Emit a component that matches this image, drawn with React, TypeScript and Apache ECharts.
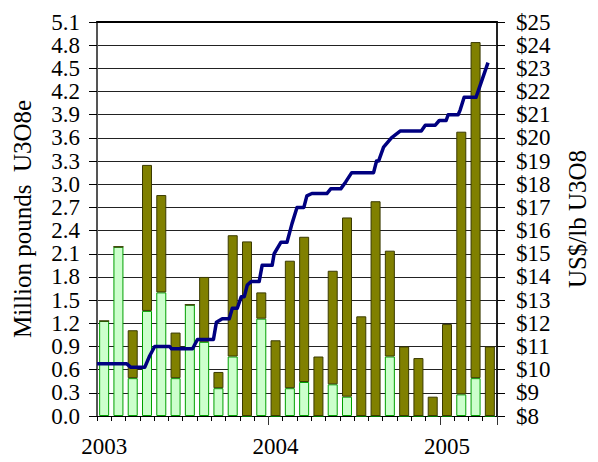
import React, { useEffect, useRef } from "react";
import * as echarts from "echarts";

const categories = [
  "Jan 2003", "Feb 2003", "Mar 2003", "Apr 2003", "May 2003", "Jun 2003",
  "Jul 2003", "Aug 2003", "Sep 2003", "Oct 2003", "Nov 2003", "Dec 2003",
  "Jan 2004", "Feb 2004", "Mar 2004", "Apr 2004", "May 2004", "Jun 2004",
  "Jul 2004", "Aug 2004", "Sep 2004", "Oct 2004", "Nov 2004", "Dec 2004",
  "Jan 2005", "Feb 2005", "Mar 2005", "Apr 2005",
];

// light green (lower) part of each bar, million lb
const lightVolume = [
  1.23, 2.19, 0.49, 1.36, 1.6, 0.49, 1.44, 0.96, 0.36, 0.77, 0, 1.26,
  0, 0.36, 0.44, 0, 0.41, 0.25, 0, 0, 0.77, 0, 0, 0,
  0, 0.28, 0.49, 0,
];

// olive (upper) part of each bar, million lb
const oliveVolume = [
  0, 0, 0.62, 1.89, 1.26, 0.59, 0, 0.84, 0.21, 1.57, 2.26, 0.34,
  0.98, 1.65, 1.88, 0.77, 1.47, 2.32, 1.29, 2.78, 1.37, 0.9, 0.75, 0.25,
  1.19, 3.4, 4.35, 0.9,
];

// spot price: [months since Jan 2003, US$/lb]
const spotPrice: [number, number][] = [
  [0, 10.25], [2.09, 10.25], [2.37, 10.1], [3.34, 10.1], [3.69, 10.6], [4.04, 11.0],
  [5.08, 11.0], [5.22, 10.9], [6.69, 10.9], [7.03, 11.3], [8.15, 11.3], [8.36, 12.05],
  [8.77, 12.2], [9.26, 12.2], [9.47, 12.65], [9.82, 12.65], [10.1, 13.15], [10.31, 13.15],
  [10.52, 13.65], [10.79, 13.8], [11.35, 13.8], [11.56, 14.5], [12.26, 14.5], [12.4, 15.0],
  [12.88, 15.5], [13.3, 15.5], [13.65, 16.3], [14.0, 17.0], [14.48, 17.0], [14.69, 17.5],
  [15.04, 17.6], [16.09, 17.6], [16.36, 17.8], [17.06, 17.8], [17.41, 18.1], [17.83, 18.5],
  [19.36, 18.5], [19.57, 19.0], [19.71, 19.0], [20.06, 19.6], [20.61, 20.0], [21.24, 20.3],
  [22.7, 20.3], [22.98, 20.55], [23.68, 20.55], [23.96, 20.75], [24.44, 20.75], [24.58, 21.0],
  [25.28, 21.0], [25.42, 21.2], [25.7, 21.75], [26.53, 21.75], [27.37, 23.25],
];

const FONT = "'Liberation Serif', 'DejaVu Serif', serif";

export default function App() {
  const ref = useRef<HTMLDivElement>(null);
  useEffect(() => {
    document.body.style.margin = "0";
    const chart = echarts.init(ref.current!, null, { renderer: "svg" });
    chart.setOption({
      animation: false,
      backgroundColor: "#ffffff",
      textStyle: { fontFamily: FONT, color: "#000" },
      grid: { left: 97, right: 99, top: 22, bottom: 46, containLabel: false },
      xAxis: [
        {
          type: "category",
          data: categories,
          position: "bottom",
          boundaryGap: true,
          axisLine: { show: true, lineStyle: { color: "#000", width: 1 } },
          axisTick: { show: true, interval: 0, length: 5, lineStyle: { color: "#000" } },
          axisLabel: {
            interval: (i: number) => i % 12 === 0,
            formatter: (v: string) => v.slice(4),
            fontFamily: FONT,
            fontSize: 23,
            color: "#000",
            margin: 19,
          },
        },
        {
          type: "category",
          data: categories,
          position: "bottom",
          boundaryGap: true,
          axisLine: { show: false },
          axisTick: { show: true, interval: (i: number) => i % 12 === 0 && i > 0, length: 9, lineStyle: { color: "#333" } },
          axisLabel: { show: false },
        },
        {
          type: "value",
          min: 0,
          max: 28,
          show: false,
        },
        {
          type: "category",
          data: categories,
          position: "top",
          axisLine: { show: true, lineStyle: { color: "#000", width: 2 } },
          axisTick: { show: false },
          axisLabel: { show: false },
        },
      ],
      yAxis: [
        {
          type: "value",
          min: 0,
          max: 5.1,
          interval: 0.3,
          position: "left",
          name: "Million pounds  U3O8e",
          nameLocation: "middle",
          nameRotate: 90,
          nameGap: 62,
          nameTextStyle: { fontFamily: FONT, fontSize: 25, color: "#000" },
          axisLine: { show: true, lineStyle: { color: "#555", width: 2 } },
          axisTick: { show: true, length: 8, lineStyle: { color: "#000" } },
          axisLabel: {
            formatter: (v: number) => v.toFixed(1),
            fontFamily: FONT,
            fontSize: 23,
            lineHeight: 23,
            color: "#000",
            margin: 17,
            showMinLabel: true,
            showMaxLabel: true,
            hideOverlap: false,
          },
          splitLine: { show: true, lineStyle: { color: "#222", width: 1 } },
        },
        {
          type: "value",
          min: 8,
          max: 25,
          interval: 1,
          position: "right",
          name: "US$/lb U3O8",
          nameLocation: "middle",
          nameRotate: 90,
          nameGap: 68,
          nameTextStyle: { fontFamily: FONT, fontSize: 25, color: "#000" },
          axisLine: { show: true, lineStyle: { color: "#222", width: 2 } },
          axisTick: { show: true, length: 8, lineStyle: { color: "#000" } },
          axisLabel: {
            formatter: (v: number) => "$" + v,
            fontFamily: FONT,
            fontSize: 23,
            lineHeight: 23,
            color: "#000",
            margin: 19,
            showMinLabel: true,
            showMaxLabel: true,
            hideOverlap: false,
          },
          splitLine: { show: false },
        },
      ],
      series: [
        {
          type: "bar",
          name: "light",
          stack: "vol",
          xAxisIndex: 0,
          yAxisIndex: 0,
          data: lightVolume,
          barCategoryGap: "30%",
          itemStyle: { color: "#CCFFCC", borderColor: "#00A000", borderWidth: 1 },
        },
        {
          type: "bar",
          name: "olive",
          stack: "vol",
          xAxisIndex: 0,
          yAxisIndex: 0,
          data: oliveVolume,
          barCategoryGap: "30%",
          itemStyle: { color: "#808000", borderColor: "#3A3A00", borderWidth: 1 },
        },
        {
          type: "line",
          name: "price",
          xAxisIndex: 2,
          yAxisIndex: 1,
          data: spotPrice,
          symbol: "none",
          lineStyle: { color: "#000080", width: 3.5, join: "round" },
          z: 5,
        },
      ],
    });
    return () => chart.dispose();
  }, []);
  return <div ref={ref} style={{ width: 598, height: 462 }} />;
}
